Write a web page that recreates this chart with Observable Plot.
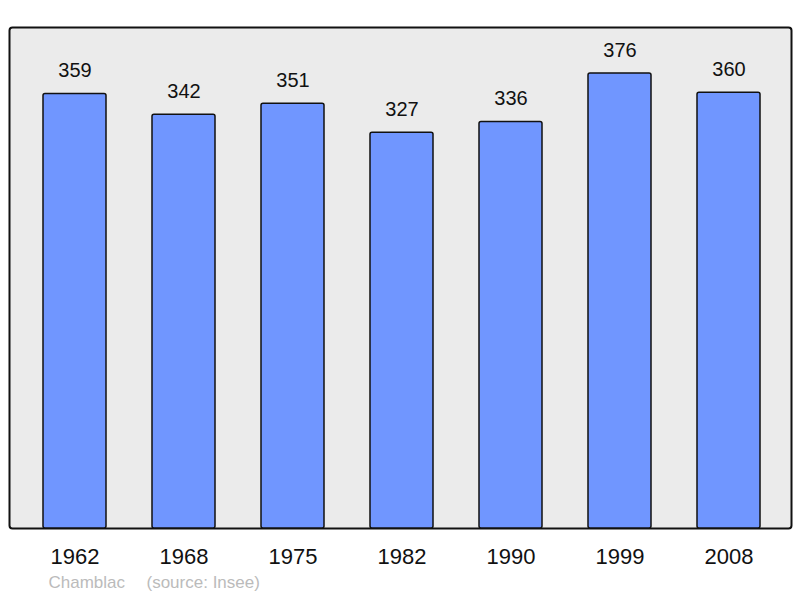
<!DOCTYPE html>
<html>
<head>
<meta charset="utf-8">
<script src="https://cdn.jsdelivr.net/npm/d3@7"></script>
<script src="https://cdn.jsdelivr.net/npm/@observablehq/plot@0.6"></script>
<style>
  html, body { margin: 0; padding: 0; background: #fff; }
  #chart svg { display: block; }
</style>
</head>
<body>
<div id="chart"></div>
<script>
const years = ["1962", "1968", "1975", "1982", "1990", "1999", "2008"];
const population = [359, 342, 351, 327, 336, 376, 360];
const commune = "Chamblac";
const source = "(source: Insee)";

const data = years.map((y, i) => ({year: y, pop: population[i]}));

const chart = Plot.plot({
  width: 800,
  height: 598,
  marginTop: 27,
  marginBottom: 70,
  marginLeft: 9,
  marginRight: 9,
  style: {fontFamily: "'Liberation Sans', Arial, sans-serif", background: "white"},
  x: {domain: years, range: [9, 794.5], paddingInner: 0.425, paddingOuter: 0.3, label: null},
  y: {domain: [0, 414], axis: null},
  marks: [
    Plot.frame({fill: "#ebebeb", stroke: "#111", strokeWidth: 2, rx: 3}),
    Plot.barY(data, {x: "year", y: "pop", fill: "#7096ff", stroke: "#111", strokeWidth: 1.5, rx: 2}),
    Plot.text(data, {x: "year", y: "pop", text: d => String(d.pop), dy: -23, fontSize: 20, fill: "#111"}),
    Plot.axisX({tickSize: 0, tickPadding: 20, fontSize: 22, color: "#111", label: null}),
    Plot.text([commune], {frameAnchor: "bottom-left", dx: 39, dy: 59, textAnchor: "start", fontSize: 17, fill: "#bbbbbb"}),
    Plot.text([source], {frameAnchor: "bottom-left", dx: 137, dy: 59, textAnchor: "start", fontSize: 17, fill: "#bbbbbb"})
  ]
});
document.getElementById("chart").append(chart);
</script>
</body>
</html>
